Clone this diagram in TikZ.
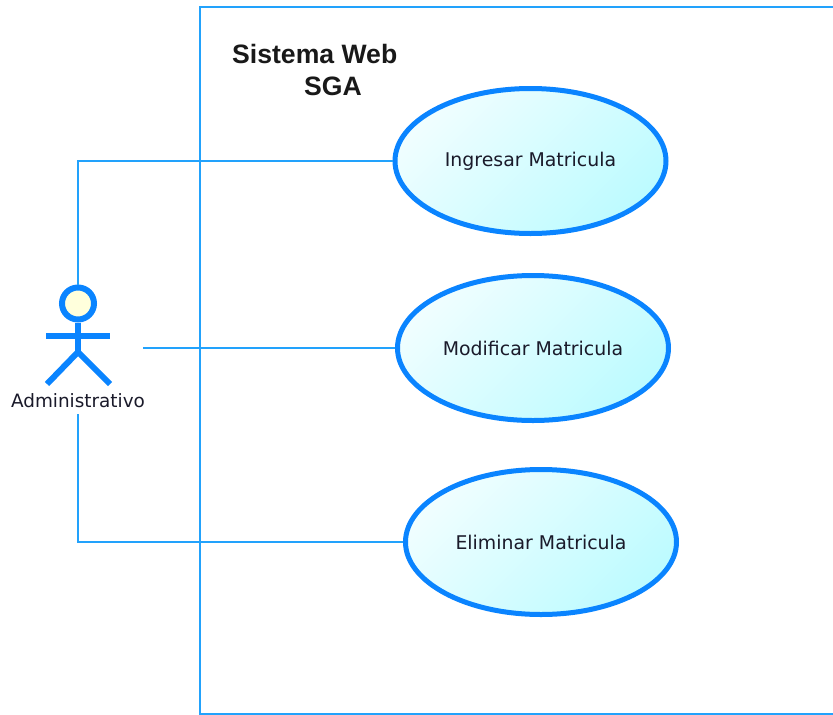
\documentclass[tikz,border=0pt]{standalone}
\usepackage{fontspec}
\setmainfont{Liberation Sans}
\newfontfamily\labelfont{DejaVu Sans}
\usetikzlibrary{shapes.geometric}
\definecolor{umlblue}{HTML}{0A84FF}
\definecolor{linkblue}{HTML}{22A2FC}
\definecolor{ucA}{HTML}{F0FEFF}
\definecolor{ucB}{HTML}{BDFBFF}
\definecolor{headfill}{HTML}{FFFFDC}
\definecolor{txt}{HTML}{1A1A2A}
\tikzset{
  usecase/.style={ellipse,draw=umlblue,line width=5pt,minimum width=271pt,minimum height=145pt,inner sep=0pt,
    left color=ucA,right color=ucB,shading angle=45,text=txt,font=\labelfont\fontsize{18.9pt}{20pt}\selectfont},
  link/.style={draw=linkblue,line width=1.7pt},
  actorline/.style={draw=umlblue,line width=6pt},
  boundary/.style={draw=linkblue,line width=1.9pt},
  titletext/.style={font=\bfseries\fontsize{26.6pt}{32pt}\selectfont,text=black!90,inner sep=0pt,align=left}
}
\begin{document}
\begin{tikzpicture}[x=1pt,y=-1pt]
\useasboundingbox (0,0) rectangle (833,715);
\coordinate (frameTR) at (833,7);
\coordinate (frameTL) at (200,7);
\coordinate (frameBL) at (200,713.8);
\coordinate (frameBR) at (833,713.8);
\draw[boundary] (frameTR) -- (frameTL) -- (frameBL) -- (frameBR);
\node[titletext,anchor=north west] (title) at (232,44) {Sistema Web\\\hspace{72pt}SGA};
\node[usecase] (uc1) at (530.5,161) {\raisebox{-1pt}{Ingresar Matricula}};
\node[usecase] (uc2) at (533,348) {\raisebox{-1pt}{Modificar Matricula}};
\node[usecase] (uc3) at (541,542) {\raisebox{-1pt}{Eliminar Matricula}};
\node[circle,draw=umlblue,fill=headfill,line width=6pt,minimum size=32pt,inner sep=0pt] (head) at (78,303.5) {};
\coordinate (hip) at (78,352);
\coordinate (armL) at (46,335.5);
\coordinate (armR) at (110,335.5);
\coordinate (legL) at (47,384);
\coordinate (legR) at (110,384);
\draw[actorline] (head.south) -- (hip);
\draw[actorline] (armL) -- (armR);
\draw[actorline] (legL) -- (hip) -- (legR);
\node[font=\labelfont\fontsize{18.4pt}{20pt}\selectfont,text=txt,inner sep=0pt] (actor) at (78,401) {Administrativo};
\coordinate (free2) at (143,348);
\coordinate (up) at (78,161);
\coordinate (down) at (78,542);
\coordinate (labelbottom) at (78,414);
\draw[link] (head.north) -- (up) -- (uc1.west);
\draw[link] (free2) -- (uc2.west);
\draw[link] (labelbottom) -- (down) -- (uc3.west);
\end{tikzpicture}
\end{document}
